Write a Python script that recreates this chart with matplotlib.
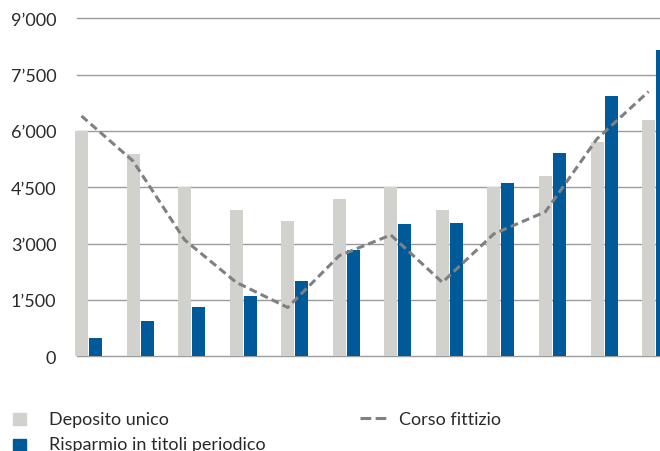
import numpy as np
import matplotlib
matplotlib.use("Agg")
import matplotlib.pyplot as plt
from matplotlib.patches import Rectangle
from matplotlib.lines import Line2D
from matplotlib.ticker import FuncFormatter

# ---- data ----
deposito_unico = [6000, 5400, 4500, 3900, 3600, 4200, 4500, 3900, 4500, 4800, 5700, 6300]
risparmio_titoli = [500, 950, 1300, 1600, 2000, 2830, 3520, 3550, 4620, 5410, 6940, 8160]
corso_fittizio = [6400, 5200, 3100, 1970, 1300, 2680, 3230, 1970, 3260, 3850, 5790, 7050]
y_ticks = [0, 1500, 3000, 4500, 6000, 7500, 9000]
legend_labels = ["Deposito unico", "Risparmio in titoli periodico", "Corso fittizio"]

GREY = "#d1d1cd"
BLUE = "#005a9a"
LINE = "#808080"
GRID = "#9c9c9c"
TEXT = "#2a2a2a"

plt.rcParams["font.family"] = ["Lato", "DejaVu Sans"]

W, H = 660, 452
fig = plt.figure(figsize=(W / 100, H / 100), dpi=100)
ax = fig.add_axes([75 / W, (H - 357.3) / H, 585 / W, 338 / H])

spacing = 51.55  # px per category
bw = 13 / spacing
off = 7 / spacing
x = np.arange(len(deposito_unico))

ax.bar(x - off, deposito_unico, width=bw, color=GREY, zorder=2)
ax.bar(x + off, risparmio_titoli, width=bw, color=BLUE, zorder=2)
ax.plot(x - off, corso_fittizio, color=LINE, lw=2.2, linestyle=(0, (2.6, 1.4)), zorder=3,
        dash_capstyle="butt")

ax.set_xlim(-13.5 / spacing, -13.5 / spacing + 585 / spacing)
ax.set_ylim(0, 9000)

for t in y_ticks:
    ax.axhline(t, xmin=2 / 585, xmax=1, color=GRID, lw=1.0, zorder=1, clip_on=False)

ax.set_yticks(y_ticks)
ax.yaxis.set_major_formatter(FuncFormatter(lambda v, p: f"{int(v):,}".replace(",", "\u2019")))
ax.tick_params(axis="y", length=0, pad=13.5, labelsize=13, labelcolor=TEXT)
ax.set_xticks([])
for s in ax.spines.values():
    s.set_visible(False)

# ---- legend (manual) ----
def fx(px):
    return px / W

def fy(py):
    return 1 - py / H

fig.patches.append(Rectangle((fx(12.7), fy(425.5)), 13.3 / W, 12 / H, transform=fig.transFigure,
                             color=GREY, zorder=5))
fig.patches.append(Rectangle((fx(12.7), fy(452.5)), 13.3 / W, 12.5 / H, transform=fig.transFigure,
                             color=BLUE, zorder=5))
fig.text(fx(49), fy(425), legend_labels[0], fontsize=13, color=TEXT, va="baseline", ha="left")
fig.text(fx(49), fy(450), legend_labels[1], fontsize=13, color=TEXT, va="baseline", ha="left")
fig.lines.append(Line2D([fx(360), fx(386)], [fy(419), fy(419)], transform=fig.transFigure,
                        color=LINE, lw=2.2, linestyle=(0, (3.5, 1.45)), dash_capstyle="butt"))
fig.text(fx(399), fy(425), legend_labels[2], fontsize=13, color=TEXT, va="baseline", ha="left")

fig.savefig("out.png", dpi=100)
